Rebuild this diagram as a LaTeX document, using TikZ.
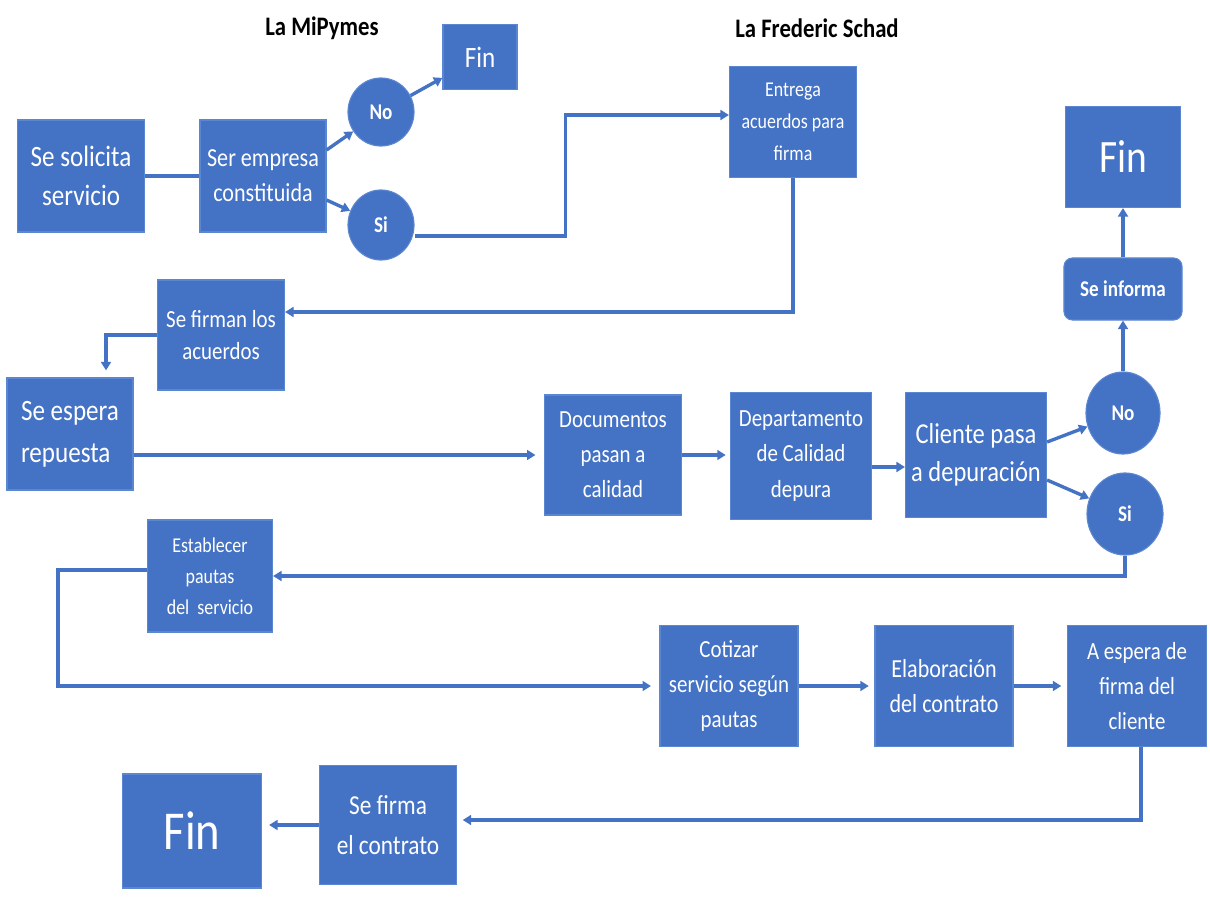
\documentclass[tikz,border=0pt]{standalone}
\usepackage{fontspec}
\setmainfont[FakeStretch=0.85]{Carlito}
\usepackage{tikz}
\usetikzlibrary{arrows.meta,positioning,calc,shapes.geometric}
\definecolor{ofblue}{HTML}{4472C4}
\definecolor{ofedge}{HTML}{5B86D0}
\tikzset{
  >=Stealth,
  every picture/.append style={line width=0.6pt},
}
\tikzset{
  box/.style={draw=ofedge, fill=ofblue, text=white, align=center, inner sep=2pt, line width=0.8pt},
  dot/.style={draw=ofedge, fill=ofblue, text=white, ellipse, inner sep=0pt, line width=0.8pt, font=\fontsize{16}{18}\bfseries\selectfont},
  flow/.style={draw=ofblue, line width=2.4pt, -{Triangle[length=6pt,width=7pt]}},
  link/.style={draw=ofblue, line width=2.4pt},
  title/.style={font=\fontsize{19}{22}\bfseries\selectfont, text=black}
}

\begin{document}
\begin{tikzpicture}[x=0.025cm, y=-0.025cm]
\useasboundingbox (0,0) rectangle (1210,900);

% Headings
\node[title] (tmipymes) at (322,28) {La MiPymes};
\node[title] (tschad) at (817,28) {La Frederic Schad};

% First row (request)
\node[box, minimum width=3.175cm, minimum height=2.8cm, font=\fontsize{21}{28}\selectfont] (solicita) at (81,176) {Se solicita\\servicio};
\node[box, minimum width=3.15cm, minimum height=2.8cm, font=\fontsize{18.5}{25}\selectfont] (empresa) at (263,176) {Ser empresa\\constituida};
\node[dot, minimum width=1.65cm, minimum height=1.7cm] (no) at (381,112) {No};
\node[dot, minimum width=1.65cm, minimum height=1.75cm] (si) at (381,225) {Si};
\node[box, minimum width=1.85cm, minimum height=1.625cm, font=\fontsize{21}{24}\selectfont] (finuno) at (480,57) {Fin};
\node[box, minimum width=3.175cm, minimum height=2.775cm, font=\fontsize{15}{22.7}\selectfont] (entrega) at (793,122) {Entrega\\acuerdos para\\firma};

% Signing and quality check
\node[box, minimum width=3.175cm, minimum height=2.75cm, font=\fontsize{17.5}{22.7}\selectfont] (firman) at (221,335) {Se firman los\\acuerdos};
\node[box, minimum width=3.15cm, minimum height=2.8cm, font=\fontsize{21}{30}\selectfont, align=left] (espera) at (70,434) {Se espera\\repuesta};
\node[box, minimum width=3.425cm, minimum height=3cm, font=\fontsize{17.5}{25}\selectfont] (docs) at (613,455) {Documentos\\pasan a\\calidad};
\node[box, minimum width=3.525cm, minimum height=3.175cm, font=\fontsize{17.5}{25}\selectfont] (depto) at (801,456) {Departamento\\de Calidad\\depura};
\node[box, minimum width=3.525cm, minimum height=3.125cm, font=\fontsize{20.5}{27}\selectfont] (cliente) at (976,455) {Cliente pasa\\a depuración};
\node[dot, minimum width=1.85cm, minimum height=2.05cm] (nodos) at (1123,413) {No};
\node[dot, minimum width=1.9cm, minimum height=2.05cm] (sidos) at (1125,514) {Si};
\node[box, rounded corners=6pt, minimum width=2.95cm, minimum height=1.55cm, font=\fontsize{16}{19}\bfseries\selectfont] (informa) at (1123,289) {Se informa};
\node[box, minimum width=2.875cm, minimum height=2.525cm, font=\fontsize{33}{36}\selectfont] (findos) at (1123,157) {Fin};

% Contract
\node[box, minimum width=3.125cm, minimum height=2.8cm, font=\fontsize{15}{22}\selectfont] (pautas) at (210,576) {Establecer\\pautas\\del\ \ servicio};
\node[box, minimum width=3.45cm, minimum height=3.025cm, font=\fontsize{17.5}{25}\selectfont] (cotizar) at (729,686) {Cotizar\\servicio según\\pautas};
\node[box, minimum width=3.45cm, minimum height=3.025cm, font=\fontsize{18.5}{25}\selectfont] (elabora) at (944,686) {Elaboración\\del contrato};
\node[box, minimum width=3.475cm, minimum height=3.025cm, font=\fontsize{17.5}{25}\selectfont] (firmacli) at (1137,686) {A espera de\\firma del\\cliente};
\node[box, minimum width=3.425cm, minimum height=2.975cm, font=\fontsize{19.5}{28}\selectfont] (firma) at (388,825) {Se firma\\el contrato};
\node[box, minimum width=3.475cm, minimum height=2.85cm, font=\fontsize{39}{42}\selectfont] (fintres) at (192,831) {Fin};

% Connectors
\draw[link] (solicita.east) -- (empresa.west);
\draw[flow] ($(empresa.east)+(0,-26)$) -- (no);
\draw[flow] ($(empresa.east)+(0,24)$) -- (si);
\draw[flow] (no) -- (finuno);
\draw[flow] ($(si.east)+(0,11)$) -- ++(151,0) |- ($(entrega.west)+(0,-7)$);
\draw[flow] (entrega.south) |- ($(firman.east)+(0,-23)$);
\draw[flow, shorten >=5pt] (firman.west) -| ($(espera.north)+(36,0)$);
\draw[flow, shorten >=6pt] (espera.east |- docs.west) -- (docs.west);
\draw[flow, shorten >=3pt] (docs.east) -- (docs.east -| depto.west);
\draw[flow] (depto.east |- 0,467) -- (cliente.west |- 0,467);
\draw[flow] ($(cliente.east)+(0,-13)$) -- (nodos);
\draw[flow] ($(cliente.east)+(0,25)$) -- (sidos);
\draw[flow] (nodos.north) -- (informa.south);
\draw[flow] (informa.north) -- (findos.south);
\draw[flow] (sidos.south) |- (pautas.east);
\draw[flow, shorten >=6pt] ($(pautas.west)+(0,-6)$) -- ++(-89,0) |- (cotizar.west);
\draw[flow, shorten >=4pt] (cotizar.east) -- (elabora.west);
\draw[flow, shorten >=4pt] (elabora.east) -- (firmacli.west);
\draw[flow, shorten >=4pt] ($(firmacli.south)+(4,0)$) |- ($(firma.east)+(0,-5)$);
\draw[flow, shorten >=5pt] (firma.west) -- (firma.west -| fintres.east);

\end{tikzpicture}
\end{document}
